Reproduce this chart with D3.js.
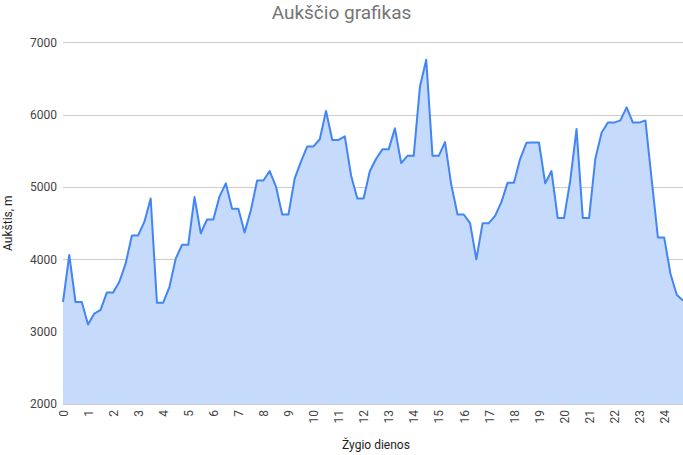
<!DOCTYPE html>
<html>
<head>
<meta charset="utf-8">
<script src="https://cdn.jsdelivr.net/npm/d3@7"></script>
<style>
  html, body { margin: 0; padding: 0; background: #fff; }
  svg { display: block; font-family: Roboto, "Noto Sans", sans-serif; }
</style>
</head>
<body>
<svg id="chart" width="683" height="455"></svg>
<script>
const title = "Aukščio grafikas";
const yTitle = "Aukštis, m";
const xTitle = "Žygio dienos";

const days = [
  0, 0.25, 0.5, 0.75, 1, 1.25, 1.5, 1.75, 2, 2.25, 2.5, 2.75, 3, 3.25, 3.5, 3.75,
  4, 4.25, 4.5, 4.75, 5, 5.25, 5.5, 5.75, 6, 6.25, 6.5, 6.75, 7, 7.25, 7.5, 7.75,
  8, 8.25, 8.5, 8.75, 9, 9.25, 9.5, 9.75, 10, 10.25, 10.5, 10.75, 11, 11.25, 11.5, 11.75,
  12, 12.25, 12.5, 12.75, 13, 13.25, 13.5, 13.75, 14, 14.25, 14.5, 14.75, 15, 15.25, 15.5, 15.75,
  16, 16.25, 16.5, 16.75, 17, 17.25, 17.5, 17.75, 18, 18.25, 18.5, 18.75, 19, 19.25, 19.5, 19.75,
  20, 20.25, 20.5, 20.75, 21, 21.25, 21.5, 21.75, 22, 22.25, 22.5, 22.75, 23, 23.25, 23.5, 23.75,
  24, 24.25, 24.5, 24.75
];

const altitude = [
  3410, 4060, 3410, 3410, 3100, 3250, 3300, 3540, 3540, 3690, 3940, 4330, 4330, 4520, 4840, 3400,
  3400, 3620, 4010, 4200, 4200, 4860, 4360, 4550, 4550, 4870, 5050, 4700, 4700, 4370, 4680, 5090,
  5090, 5220, 5010, 4620, 4620, 5120, 5350, 5560, 5560, 5660, 6050, 5650, 5650, 5700, 5160, 4840,
  4840, 5220, 5390, 5520, 5520, 5810, 5330, 5430, 5430, 6390, 6760, 5430, 5430, 5620, 5030, 4620,
  4620, 4500, 4000, 4500, 4500, 4600, 4790, 5060, 5060, 5390, 5610, 5615, 5615, 5050, 5220, 4570,
  4570, 5090, 5800, 4570, 4570, 5390, 5750, 5890, 5890, 5920, 6100, 5890, 5890, 5920, 5100, 4300,
  4300, 3800, 3510, 3430
];

const xTicks = [0, 1, 2, 3, 4, 5, 6, 7, 8, 9, 10, 11, 12, 13, 14, 15, 16, 17, 18, 19, 20, 21, 22, 23, 24];
const yTicks = [2000, 3000, 4000, 5000, 6000, 7000];

const data = days.map((d, i) => ({ x: d, y: altitude[i] }));

const svg = d3.select("#chart");
const plotLeft = 63, plotRight = 683, plotTop = 42.3, plotBottom = 404;

const x = d3.scaleLinear().domain([0, 24.75]).range([plotLeft, plotRight]);
const y = d3.scaleLinear().domain([2000, 7000]).range([plotBottom, plotTop]);

// gridlines
svg.append("g")
  .selectAll("line")
  .data(yTicks)
  .join("line")
  .attr("x1", plotLeft).attr("x2", plotRight)
  .attr("y1", d => Math.round(y(d)) + 0.5).attr("y2", d => Math.round(y(d)) + 0.5)
  .attr("stroke", "#cccccc").attr("stroke-width", 1);

// area
const area = d3.area().x(d => x(d.x)).y0(y(2000)).y1(d => y(d.y));
svg.append("path").datum(data)
  .attr("d", area)
  .attr("fill", "#c6dafc");

// line
const line = d3.line().x(d => x(d.x)).y(d => y(d.y));
svg.append("path").datum(data)
  .attr("d", line)
  .attr("fill", "none")
  .attr("stroke", "#4285f4")
  .attr("stroke-width", 2)
  .attr("stroke-linejoin", "round");

// y axis labels
const yAxis = d3.axisLeft(y).tickValues(yTicks).tickSize(0).tickPadding(6).tickFormat(d3.format("d"));
const gy = svg.append("g").attr("transform", `translate(${plotLeft},0)`).call(yAxis);
gy.select(".domain").remove();
gy.selectAll("text").attr("fill", "#444444").style("font-size", "12px")
  .style("font-family", "Roboto, sans-serif");

// x axis labels (rotated)
const xAxis = d3.axisBottom(x).tickValues(xTicks).tickSize(0).tickFormat(d3.format("d"));
const gx = svg.append("g").attr("transform", `translate(0,${plotBottom})`).call(xAxis);
gx.select(".domain").remove();
gx.selectAll("text")
  .attr("fill", "#444444").style("font-size", "12px")
  .style("font-family", "Roboto, sans-serif")
  .attr("text-anchor", "end")
  .attr("transform", "rotate(-90)")
  .attr("x", -6).attr("y", 0).attr("dy", "0.35em");

// title
svg.append("text")
  .attr("x", 341.5).attr("y", 19)
  .attr("text-anchor", "middle")
  .attr("fill", "#757575")
  .style("font-size", "19px")
  .text(title);

// y title
svg.append("text")
  .attr("transform", `translate(12,${(plotTop + plotBottom) / 2}) rotate(-90)`)
  .attr("text-anchor", "middle")
  .attr("fill", "#222222")
  .style("font-size", "12px")
  .text(yTitle);

// x title
svg.append("text")
  .attr("x", 376).attr("y", 449)
  .attr("text-anchor", "middle")
  .attr("fill", "#222222")
  .style("font-size", "12px")
  .text(xTitle);
</script>
</body>
</html>
